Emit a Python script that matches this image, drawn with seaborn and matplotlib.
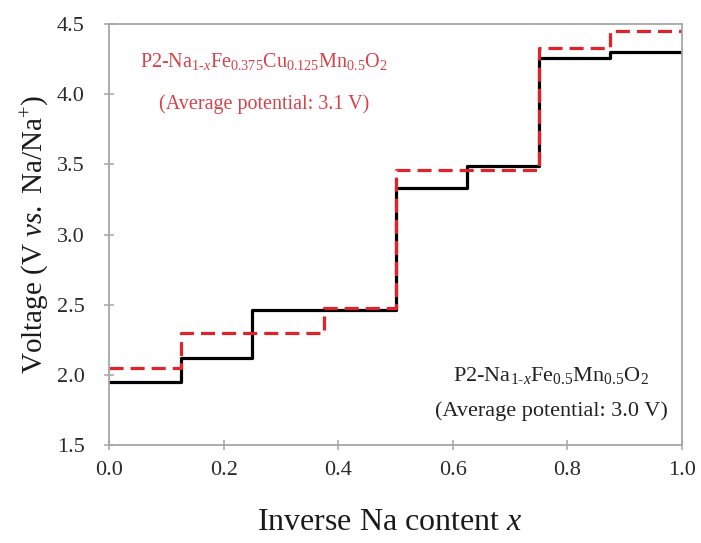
import matplotlib
matplotlib.use("Agg")
import matplotlib.pyplot as plt
import numpy as np
import pandas as pd
import seaborn as sns

# Sodium-extraction step boundaries and plateau voltages (V vs. Na/Na+)
x_edges = [0.0, 0.125, 0.25, 0.375, 0.5, 0.625, 0.75, 0.875, 1.0]
v_fe_mn = [1.95, 2.12, 2.46, 2.46, 3.33, 3.49, 4.26, 4.30]
v_fe_cu_mn = [2.05, 2.30, 2.30, 2.48, 3.46, 3.46, 4.33, 4.45]

x_ticks = [0.0, 0.2, 0.4, 0.6, 0.8, 1.0]
y_ticks = [1.5, 2.0, 2.5, 3.0, 3.5, 4.0, 4.5]

sns.set_theme(style="white")
plt.rcParams["font.family"] = ["Liberation Serif", "DejaVu Serif"]
plt.rcParams["mathtext.fontset"] = "custom"
plt.rcParams["mathtext.rm"] = "Liberation Serif"
plt.rcParams["mathtext.it"] = "Liberation Serif:italic"
plt.rcParams["mathtext.bf"] = "Liberation Serif:bold"


def steps(values):
    return pd.DataFrame({"x": x_edges, "v": list(values) + [values[-1]]})


fig = plt.figure(figsize=(7.01, 5.43), dpi=100)
ax = fig.add_axes([0.1555, 0.18, 0.8175, 0.7758])

sns.lineplot(data=steps(v_fe_mn), x="x", y="v", ax=ax, color="black",
             lw=2.3, drawstyle="steps-post", sort=False)
sns.lineplot(data=steps(v_fe_cu_mn), x="x", y="v", ax=ax, color="#e0222a",
             lw=2.3, drawstyle="steps-post", sort=False, dashes=False,
             linestyle=(0, (4.4, 2.2)))

ax.set_xlim(0, 1.0)
ax.set_ylim(1.5, 4.5)
ax.set_xticks(x_ticks)
ax.set_yticks(y_ticks)
ax.set_xticklabels([f"{t:.1f}" for t in x_ticks])
ax.set_yticklabels([f"{t:.1f}" for t in y_ticks])

for s in ax.spines.values():
    s.set_color("#a6a6a6")
    s.set_linewidth(1.3)
ax.tick_params(axis="both", direction="inout", length=7, width=1.1,
               color="#a6a6a6", labelsize=16, labelcolor="#2a2a2a",
               left=True, bottom=True)
ax.tick_params(axis="y", pad=14)
ax.tick_params(axis="x", pad=8)

ax.set_xlabel("Inverse Na content $\\mathit{x}$", fontsize=23, color="#1a1a1a",
              labelpad=20)
ax.xaxis.label.set_x(0.49)
ax.set_ylabel("Voltage (V $\\mathit{vs.}$ Na/Na$^{+}$)", fontsize=21,
              color="#1a1a1a", labelpad=4)

red_txt = "#d9414a"
ax.text(0.27, 0.91,
        "P2-Na$_{1\\text{-}x}$Fe$_{0.375}$Cu$_{0.125}$Mn$_{0.5}$O$_{2}$",
        transform=ax.transAxes, ha="center", va="center", fontsize=14.5,
        color=red_txt)
ax.text(0.27, 0.81, "(Average potential: 3.1 V)", transform=ax.transAxes,
        ha="center", va="center", fontsize=14.5, color=red_txt)

ax.text(0.772, 0.165, "P2-Na$_{1\\text{-}x}$Fe$_{0.5}$Mn$_{0.5}$O$_{2}$",
        transform=ax.transAxes, ha="center", va="center", fontsize=16,
        color="#222222")
ax.text(0.772, 0.08, "(Average potential: 3.0 V)", transform=ax.transAxes,
        ha="center", va="center", fontsize=16, color="#222222")

fig.savefig("out.png", dpi=100)
